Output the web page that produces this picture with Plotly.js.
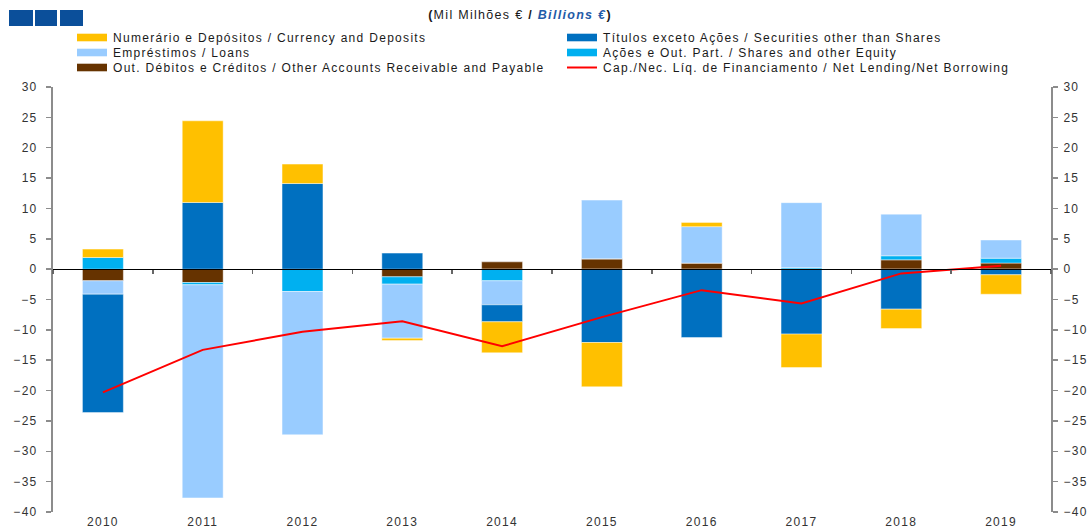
<!DOCTYPE html>
<html>
<head>
<meta charset="utf-8">
<script src="https://cdn.plot.ly/plotly-3.0.1.min.js"></script>
<style>
  html, body { margin: 0; padding: 0; background: #fff; }
  #chart { width: 1088px; height: 531px; }
  text { letter-spacing: 1.3px; }
</style>
</head>
<body>
<div id="chart"></div>
<script>
// ---- data (Mil Milhões € / Billions €) ----
const years = ['2010','2011','2012','2013','2014','2015','2016','2017','2018','2019'];

const currencyName   = 'Numerário e Depósitos / Currency and Deposits';
const securitiesName = 'Títulos exceto Ações / Securities other than Shares';
const loansName      = 'Empréstimos / Loans';
const sharesName     = 'Ações e Out. Part. / Shares and other Equity';
const otherName      = 'Out. Débitos e Créditos / Other Accounts Receivable and Payable';
const netName        = 'Cap./Nec. Líq. de Financiamento / Net Lending/Net Borrowing';

const otherAccounts = [-1.92, -2.2, 0, -1.27, 1.2, 1.7, 1.0, 0, 1.53, 1.0];
const shares        = [1.92, -0.38, -3.68, -1.2, -1.92, 0, 0, 0.25, 0.67, 0.8];
const loans         = [-2.2, -35.1, -23.6, -8.9, -3.96, 9.67, 6.0, 10.7, 6.86, 3.0];
const securities    = [-19.5, 10.98, 14.1, 2.64, -2.8, -12.08, -11.26, -10.7, -6.59, -0.93];
const currency      = [1.38, 13.45, 3.2, -0.38, -5.1, -7.3, 0.7, -5.5, -3.2, -3.2];
const netLending    = [-20.3, -13.3, -10.3, -8.6, -12.7, -7.9, -3.46, -5.65, -0.7, 0.55];

// ---- styles ----
const C = {
  currency: '#FFC000',
  securities: '#0070C0',
  loans: '#99CCFF',
  shares: '#00B0F0',
  other: '#663300',
  net: '#FF0000'
};
const FONT = 'Liberation Sans, Arial, sans-serif';

function bar(name, y, color) {
  return {
    type: 'bar', name: name, x: years, y: y,
    marker: { color: color, line: { color: 'rgba(255,255,255,0.55)', width: 0.8 } },
    showlegend: false, hoverinfo: 'skip'
  };
}

// stacking order (outward from zero): other, shares, loans, securities, currency
const traces = [
  bar(otherName, otherAccounts, C.other),
  bar(sharesName, shares, C.shares),
  bar(loansName, loans, C.loans),
  bar(securitiesName, securities, C.securities),
  bar(currencyName, currency, C.currency),
  {
    type: 'scatter', mode: 'lines', name: netName, x: years, y: netLending,
    xaxis: 'x2', yaxis: 'y2',
    line: { color: C.net, width: 2 },
    showlegend: false, hoverinfo: 'skip'
  }
];

// ---- geometry helpers (plot area in pixels) ----
const L = 53, R = 37, T = 87, B = 19, W = 1088, H = 531;
const PW = W - L - R, PH = H - T - B;
const px = v => (v - L) / PW;
const py = v => (H - B - v) / PH;

const shapes = [];
const annotations = [];

// logo squares
[[9, 33], [35, 57], [60, 83]].forEach(([a, b]) => {
  shapes.push({ type: 'rect', xref: 'paper', yref: 'paper',
    x0: px(a), x1: px(b), y0: py(26), y1: py(10),
    fillcolor: '#0B4F9A', line: { width: 0 } });
});

// custom legend (two columns, row-major)
const legendItems = [
  { name: currencyName,   color: C.currency,   col: 0, row: 0, kind: 'rect' },
  { name: securitiesName, color: C.securities, col: 1, row: 0, kind: 'rect' },
  { name: loansName,      color: C.loans,      col: 0, row: 1, kind: 'rect' },
  { name: sharesName,     color: C.shares,     col: 1, row: 1, kind: 'rect' },
  { name: otherName,      color: C.other,      col: 0, row: 2, kind: 'rect' },
  { name: netName,        color: C.net,        col: 1, row: 2, kind: 'line' }
];
const colX = [77, 567];
const rowY = [37.5, 52.5, 67.5];
legendItems.forEach(it => {
  const x0 = colX[it.col], yc = rowY[it.row];
  if (it.kind === 'rect') {
    shapes.push({ type: 'rect', xref: 'paper', yref: 'paper',
      x0: px(x0), x1: px(x0 + 30), y0: py(yc + 3.8), y1: py(yc - 3.8),
      fillcolor: it.color, line: { width: 0 } });
  } else {
    shapes.push({ type: 'line', xref: 'paper', yref: 'paper',
      x0: px(x0), x1: px(x0 + 30), y0: py(yc), y1: py(yc),
      line: { color: it.color, width: 2 } });
  }
  annotations.push({ xref: 'paper', yref: 'paper', x: px(x0 + 34), y: py(yc),
    xanchor: 'left', yanchor: 'middle', showarrow: false, align: 'left',
    text: it.name, font: { family: FONT, size: 12, color: '#1a1a1a' } });
});

const layout = {
  width: W, height: H,
  margin: { l: L, r: R, t: T, b: B, pad: 0 },
  paper_bgcolor: '#ffffff', plot_bgcolor: '#ffffff',
  barmode: 'relative',
  bargap: 0.59,
  showlegend: false,
  font: { family: FONT, size: 12, color: '#333333' },
  title: {
    text: "<b>(</b>Mil Milhões € <b>/</b> <b><i><span style='color:#1F5BA8'>Billions €</span></i></b><b>)</b>",
    font: { family: FONT, size: 12.5, color: '#1a1a1a' },
    xref: 'container', yref: 'container', x: 520 / W, xanchor: 'center',
    y: 1 - 15 / H, yanchor: 'middle'
  },
  xaxis: {
    type: 'category', categoryorder: 'array', categoryarray: years,
    range: [-0.5, 9.5], showgrid: false, zeroline: false, showline: false,
    ticks: '', ticklabelstandoff: 1,
    tickfont: { family: FONT, size: 12, color: '#333333' }
  },
  yaxis: {
    range: [-40, 30], dtick: 5, tick0: 0, showgrid: false, zeroline: false,
    showline: true, linecolor: '#8c8c8c', linewidth: 2,
    ticks: 'outside', ticklen: 5, tickwidth: 1.5, tickcolor: '#8c8c8c',
    ticklabelstandoff: 6,
    tickfont: { family: FONT, size: 12, color: '#333333' }
  },
  xaxis2: {
    type: 'category', categoryorder: 'array', categoryarray: years,
    overlaying: 'x', anchor: 'free', position: 40 / 70,
    range: [-0.5, 9.5], showgrid: false, zeroline: false,
    showline: true, linecolor: '#000000', linewidth: 1,
    ticks: 'outside', tickson: 'boundaries', ticklen: 4, tickwidth: 1.5, tickcolor: '#666666',
    showticklabels: false
  },
  yaxis2: {
    overlaying: 'y', side: 'right', anchor: 'x2',
    range: [-40, 30], dtick: 5, tick0: 0, showgrid: false, zeroline: false,
    showline: true, linecolor: '#8c8c8c', linewidth: 2,
    ticks: 'outside', ticklen: 5, tickwidth: 1.5, tickcolor: '#8c8c8c',
    ticklabelstandoff: 3,
    tickfont: { family: FONT, size: 12, color: '#333333' }
  },
  shapes: shapes,
  annotations: annotations
};

Plotly.newPlot('chart', traces, layout, { displayModeBar: false, staticPlot: true });
</script>
</body>
</html>
